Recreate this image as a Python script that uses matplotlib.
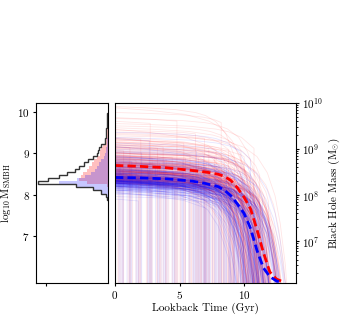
import numpy as np
import matplotlib
matplotlib.use("Agg")
import matplotlib.pyplot as plt

plt.rcParams.update({
    "font.family": "serif",
    "font.serif": ["cmr10"],
    "mathtext.fontset": "cm",
    "axes.formatter.use_mathtext": True,
    "font.size": 8,
    "xtick.major.size": 2.5,
    "ytick.major.size": 2.5,
    "xtick.major.pad": 2,
    "ytick.major.pad": 2,
    "ytick.minor.size": 1.5,
})

C_RED = "#ff0000"
C_BLUE = "#0000ff"

# histogram of present-day log10 BH masses (bin edges + counts per bin)
hist_edges = np.round(7.875 + 0.075 * np.arange(29), 3)
hist_blue = [0.5, 2, 6, 14, 30, 48, 30, 22, 16, 12, 10, 8, 6, 4, 3, 2, 1.5, 1,
             0.5, 0.3, 0, 0, 0, 0, 0, 0, 0, 0]
hist_red = [0, 0, 0, 0, 1, 20, 28, 26, 24, 20, 18, 15, 13, 10, 7, 7, 6.5, 5,
            2.5, 2.2, 2, 1.5, 1.2, 0.8, 0.6, 0.4, 0.3, 0.2]

# median growth histories (lookback time in Gyr, log10 mass)
med_red_t = [0, 2, 4, 6, 7, 8, 8.5, 9, 9.5, 10, 10.5, 11, 11.5, 12, 12.5, 13]
med_red_m = [8.64, 8.62, 8.59, 8.53, 8.50, 8.45, 8.40, 8.31, 8.15, 7.95, 7.70,
             7.25, 6.75, 6.33, 6.18, 6.12]
med_blue_t = [0, 2, 4, 6, 7, 8, 8.5, 9, 9.5, 10, 10.5, 11, 11.5, 12, 12.5, 12.8]
med_blue_m = [8.38, 8.37, 8.35, 8.30, 8.25, 8.18, 8.10, 7.98, 7.80, 7.60, 7.28,
              6.80, 6.42, 6.23, 6.14, 6.11]

# single-track shape: mass below final value vs lookback time
track_t = [0, 3, 6, 8, 9, 10, 11, 11.8, 12.4, 12.8, 13.2, 13.5]
track_dm = [0, -0.02, -0.05, -0.1, -0.15, -0.25, -0.45, -0.8, -1.3, -1.9, -2.8, -4.0]
# per-track variations, cycled over the tracks
track_stretch = [0.97, 0.88, 1.0, 0.84, 0.93, 0.80, 0.99, 0.9, 0.86, 0.95, 0.82,
                 0.92, 0.98, 0.87, 0.96, 0.85, 0.91, 0.78, 0.94, 0.89]
track_depth = [1.0, 1.6, 0.8, 2.3, 1.2, 0.9, 1.9, 1.0, 2.9, 1.3, 0.85, 1.5, 3.5]
track_seed = [np.nan, 11.3, np.nan, 6.4, 9.7, np.nan, 2.6, 10.5, np.nan, 4.6,
              8.4, np.nan, 12.1, 0.4, np.nan, 7.5, 10.9, np.nan, 3.3, 9.3,
              np.nan, 5.9, 11.7, np.nan, 1.1, 8.8, np.nan, 7.0, 10.1, np.nan,
              3.9, 11.0, np.nan, 5.2, 9.0, np.nan, 1.8, 8.0, np.nan, 12.4, 6.8]
track_seed_offset = [0.0, 0.13, 0.27, -0.09, 0.2, -0.17, 0.06]
track_jitter = [-0.03, 0.01, 0.035, -0.015, 0.02, -0.035, 0.0, 0.028, -0.022,
                0.012, -0.006]


def build_tracks(counts, shift):
    centers = 0.5 * (hist_edges[:-1] + hist_edges[1:])
    n = np.ceil(np.asarray(counts)).astype(int)
    m0 = np.repeat(centers, n)
    k = len(m0)
    m0 = m0 + np.resize(np.roll(track_jitter, shift), k)
    s = np.resize(np.roll(track_stretch, shift), k)
    d = np.resize(np.roll(track_depth, shift), k)
    seed = (np.resize(np.roll(track_seed, shift), k)
            + np.resize(track_seed_offset, k))
    return m0, s, d, seed


def draw_tracks(ax, counts, color, shift):
    for m, s, d, ts in zip(*build_tracks(counts, shift)):
        t = np.array(track_t) * s
        lm = m + np.array(track_dm) * d
        if np.isfinite(ts) and ts < t[-1]:
            keep = t < ts
            lm_seed = np.interp(ts, t, lm)
            t = np.append(t[keep], [ts, ts])
            lm = np.append(lm[keep], [lm_seed, 3.0])
        ax.plot(t, 10 ** lm, color=color, lw=0.6, alpha=0.1)


fig = plt.figure(figsize=(3.6, 3.19), dpi=100)
axh = fig.add_axes([0.100, 0.1138, 0.199, 0.5643])
ax = fig.add_axes([0.3194, 0.1138, 0.502, 0.5643])

# left: mass histogram
hist_total = np.array(hist_red) + np.array(hist_blue)
axh.stairs(hist_red, hist_edges, orientation="horizontal", fill=True,
           color=C_RED, alpha=0.25, lw=0)
axh.stairs(hist_blue, hist_edges, orientation="horizontal", fill=True,
           color=C_BLUE, alpha=0.22, lw=0)
axh.stairs(hist_total, hist_edges, orientation="horizontal", color="#333333", lw=1.0)
axh.set_xlim(70, 0)
axh.set_ylim(5.87, 10.22)
axh.set_xticks([60])
axh.set_xticklabels([])
axh.set_yticks([7, 8, 9, 10])
axh.set_ylabel(r"$\log_{10}{\rm M}_{\rm SMBH}$", labelpad=3)

# right: growth histories
draw_tracks(ax, hist_red, C_RED, 0)
draw_tracks(ax, hist_blue, C_BLUE, 5)
ax.plot(med_red_t, 10 ** np.array(med_red_m), color=C_RED, lw=2, ls=(0, (3, 1.5)))
ax.plot(med_blue_t, 10 ** np.array(med_blue_m), color=C_BLUE, lw=2, ls=(0, (3, 1.5)))
ax.set_yscale("log")
ax.set_xlim(0, 14)
ax.set_ylim(10 ** 6.1, 1e10)
ax.set_xticks([0, 5, 10])
ax.yaxis.tick_right()
ax.yaxis.set_label_position("right")
ax.set_xlabel("Lookback Time (Gyr)", labelpad=1)
ax.set_ylabel(r"Black Hole Mass (M$_{\odot}$)", labelpad=3)

fig.savefig("out.png", dpi=100)
